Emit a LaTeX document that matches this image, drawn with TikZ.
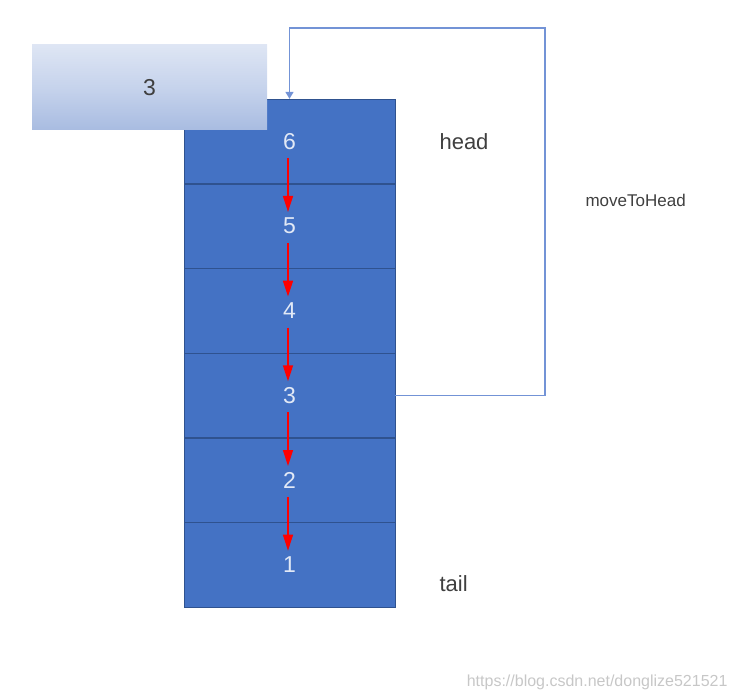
\documentclass[tikz,border=0pt]{standalone}
\usepackage{fontspec}
\setmainfont{Liberation Sans}
\usepackage{xcolor}
\usetikzlibrary{positioning,calc,arrows.meta}
\definecolor{cellblue}{HTML}{4472C4}
\definecolor{celledge}{HTML}{2F528F}
\definecolor{looplue}{HTML}{7393D6}
\definecolor{numtext}{HTML}{E2E9F6}
\definecolor{darktext}{HTML}{3F3F3F}
\definecolor{shadea}{HTML}{C3D1EB}
\definecolor{shadeb}{HTML}{A6BAE0}
\definecolor{shadec}{HTML}{C6D3EC}
\definecolor{shaded}{HTML}{F6F8FC}
\pgfdeclareverticalshading{newbox}{100bp}{%
  color(0bp)=(shadea); color(23bp)=(shadeb);
  color(50bp)=(shadec); color(100bp)=(shaded)}
\tikzset{
  cell/.style={draw=celledge,fill=cellblue,text=numtext,minimum width=211pt,
    minimum height=84.3pt,inner sep=0pt,font=\fontsize{23}{23}\selectfont},
  pushdown/.style={red,line width=1.5pt,-{Triangle[length=16pt,width=10pt]}},
  looparrow/.style={looplue,line width=1.5pt,-{Triangle[length=7pt,width=8pt]}},
  label/.style={text=darktext,font=\fontsize{22}{22}\selectfont}
}
\begin{document}
\begin{tikzpicture}[x=1pt,y=-1pt]
  \useasboundingbox (0,0) rectangle (739,700);

  % the list, head on top
  \node[cell] (c6) at (289.5,141.2) {6};
  \node[cell,below=0pt of c6] (c5) {5};
  \node[cell,below=0pt of c5] (c4) {4};
  \node[cell,below=0pt of c4] (c3) {3};
  \node[cell,below=0pt of c3] (c2) {2};
  \node[cell,below=0pt of c2] (c1) {1};

  \foreach \a/\b in {6/5,5/4,4/3,3/2,2/1}
    \draw[pushdown] ($(c\a.center)+(-1.5,17)$) -- ($(c\b.center)+(-1.5,-14)$);

  % the entry being moved
  \node[shading=newbox,minimum width=235pt,minimum height=85pt,inner sep=0pt,
    text=darktext,font=\fontsize{23}{23}\selectfont] (moved) at (149.5,87.5) {3};

  \coordinate (turn) at (545,28);
  \draw[looparrow] (c3.east) -| (turn) -| (c6.north);

  \node[label,anchor=west] (head) at (436,142) {head};
  \node[label,anchor=west] (tail) at (436,584) {tail};
  \node[text=darktext,anchor=west,font=\fontsize{17}{17}\selectfont] (move) at (582,200) {moveToHead};
  \node[text=black!22,anchor=east,font=\fontsize{16}{16}\selectfont] (mark) at (731,682) {https://blog.csdn.net/donglize521521};
\end{tikzpicture}
\end{document}
